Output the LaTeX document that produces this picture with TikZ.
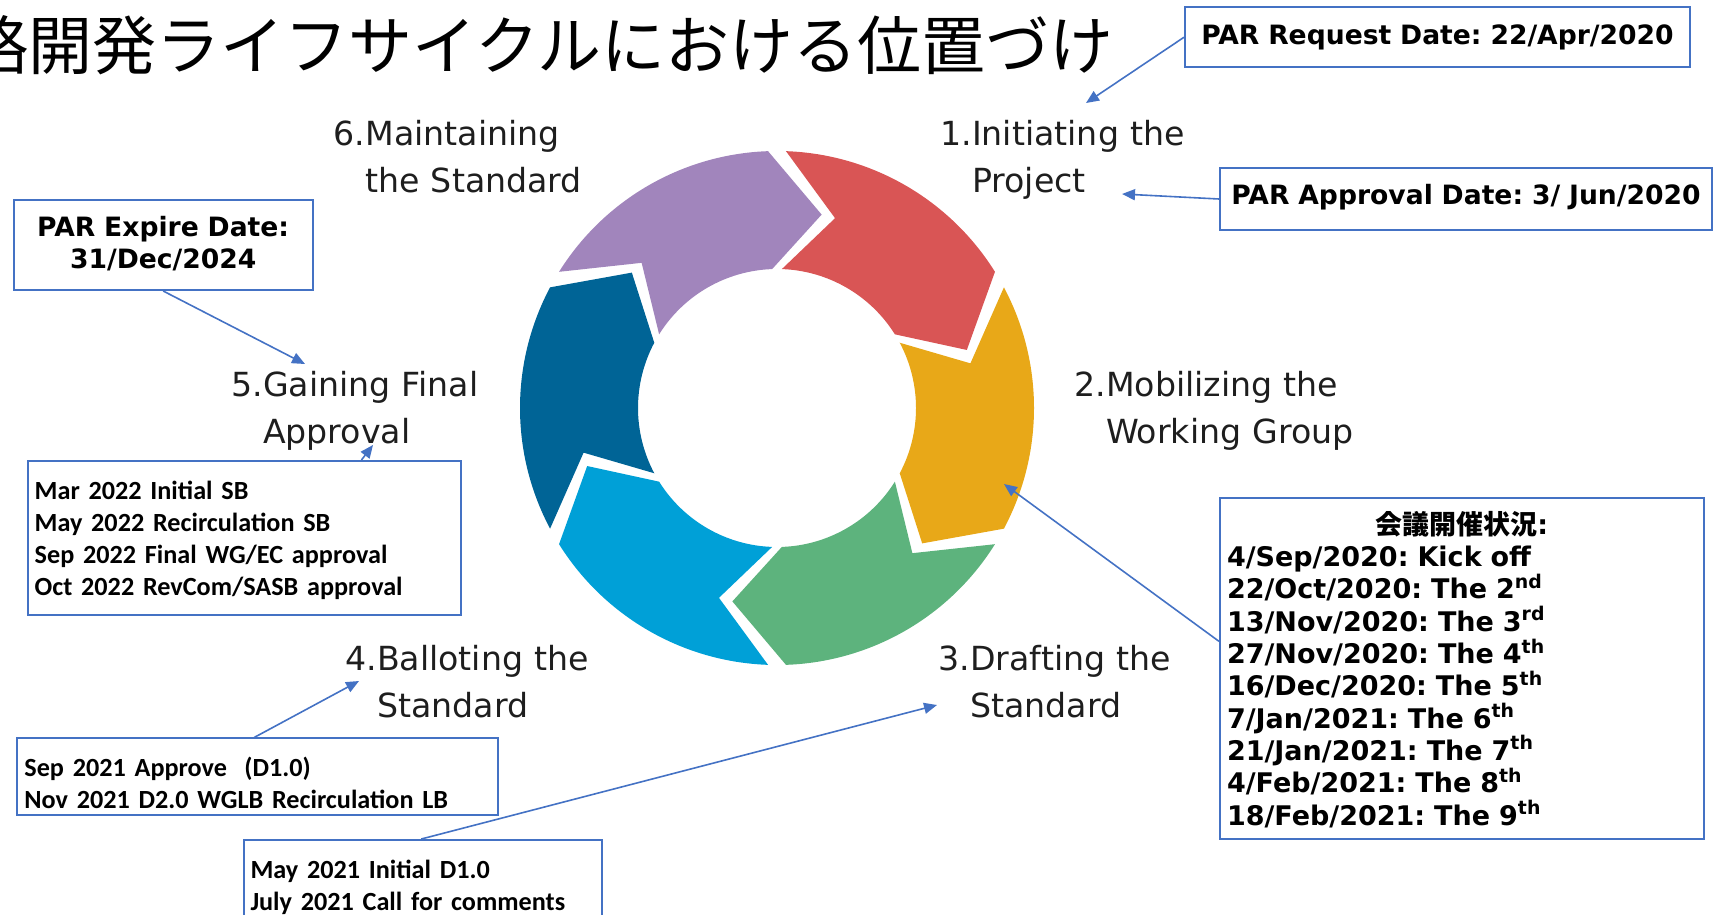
\documentclass[tikz,border=0pt]{standalone}
\usepackage{fontspec}
\usetikzlibrary{arrows.meta}
\usetikzlibrary{calc}
\newfontfamily\stagefont{DejaVu Sans}
\newfontfamily\califont{Carlito}
\newfontfamily\cjkfont{Noto Sans CJK JP}
\definecolor{callblue}{HTML}{4472C4}
\definecolor{stagegray}{HTML}{1E1E1E}
\definecolor{segred}{HTML}{D95555}
\definecolor{segorange}{HTML}{E8A818}
\definecolor{seggreen}{HTML}{5DB37D}
\definecolor{segltblue}{HTML}{00A0D7}
\definecolor{segdkblue}{HTML}{006496}
\definecolor{segpurple}{HTML}{A185BC}
\tikzset{
  stage/.style={anchor=base west, align=left, text width=160pt, inner sep=0pt, text=stagegray, font=\stagefont\fontsize{16.6}{23.5}\selectfont},
  callbox/.style={draw=callblue, line width=1pt, anchor=north west, inner xsep=3.5pt, inner ysep=0pt, text height=18.4pt},
  partext/.style={font=\stagefont\bfseries\fontsize{13.3}{16.15}\selectfont},
  datetext/.style={font=\califont\bfseries\fontsize{13.1}{16.1}\selectfont, align=left},
  pointer/.style={callblue, line width=0.8pt, -{Triangle[length=6.5pt, width=5.5pt]}}
}
\frenchspacing

\begin{document}
\begin{tikzpicture}[x=0.5pt, y=-0.5pt]
  \useasboundingbox (0,0) rectangle (1713,915);
  \clip (0,0) rectangle (1713,915);

  \node[anchor=base west, inner sep=0pt, font=\cjkfont\fontsize{32}{36}\selectfont] (title) at (-36,70) {略開発ライフサイクルにおける位置づけ};

  \begin{scope}[shift={(777,408)}, yscale=-1]
    \foreach \s/\col in {90/segred, 30/segorange, -30/seggreen, -90/segltblue, 210/segdkblue, 150/segpurple}
      \fill[\col] ({\s-2}:257) arc[start angle=\s-2, end angle=\s-58, radius=257]
        -- ({\s-73}:198.5) -- ({\s-58}:139) arc[start angle=\s-58, end angle=\s-2, radius=139]
        -- ({\s-17}:198.5) -- cycle;
  \end{scope}

  \node[stage] (s1) at (940,146) {1.Initiating the\\\phantom{1.}Project};
  \node[stage] (s2) at (1074,396.7) {2.Mobilizing the\\\phantom{2.}Working Group};
  \node[stage] (s3) at (938.3,670) {3.Drafting the\\\phantom{3.}Standard};
  \node[stage] (s4) at (345,670.7) {4.Balloting the\\\phantom{4.}Standard};
  \node[stage] (s5) at (231,396.7) {5.Gaining Final\\\phantom{5.}Approval};
  \node[stage] (s6) at (333.3,146) {6.Maintaining\\\phantom{6.}the Standard};

  \node[callbox, partext, align=center, text width=245.5pt, text depth=11.35pt] (req) at (1184,6.5) {PAR Request Date: 22/Apr/2020};
  \node[callbox, partext, align=center, text width=239pt, text height=18pt, text depth=13pt] (appr) at (1219,167) {PAR Approval Date: 3/ Jun/2020};
  \node[callbox, partext, align=center, text width=142.5pt, text height=18pt, text depth=27pt] (expire) at (12.7,199) {PAR Expire Date:\\31/Dec/2024};
  \node[callbox, font=\stagefont\bfseries\fontsize{13.5}{16.15}\selectfont, align=left, text width=234.85pt, text height=18pt, text depth=152.5pt] (meet) at (1219,497.3) {\makebox[\linewidth]{{\cjkfont\bfseries 会議開催状況}:}\\
    4/Sep/2020: Kick off\\
    22/Oct/2020: The 2\textsuperscript{nd}\\
    13/Nov/2020: The 3\textsuperscript{rd}\\
    27/Nov/2020: The 4\textsuperscript{th}\\
    16/Dec/2020: The 5\textsuperscript{th}\\
    7/Jan/2021: The 6\textsuperscript{th}\\
    21/Jan/2021: The 7\textsuperscript{th}\\
    4/Feb/2021: The 8\textsuperscript{th}\\
    18/Feb/2021: The 9\textsuperscript{th}};
  \node[callbox, datetext, text width=209.65pt, text height=19.15pt, text depth=58pt] (mar) at (26.7,460) {Mar 2022 Initial SB\\May 2022 Recirculation SB\\Sep 2022 Final WG/EC approval\\Oct 2022 RevCom/SASB approval};
  \node[callbox, datetext, text width=233.3pt, text height=19.15pt, text depth=19.15pt] (sep) at (16.4,737.4) {Sep 2021 Approve\ \ (D1.0)\\Nov 2021 D2.0 WGLB Recirculation LB};
  \node[callbox, datetext, text width=172.25pt, text height=19pt, text depth=50pt] (may) at (242.5,839) {May 2021 Initial D1.0\\July 2021 Call for comments};

  \coordinate (reqtip) at (1086,103);
  \coordinate (apprtip) at (1122,194);
  \coordinate (expiretip) at (305,364);
  \coordinate (meettip) at (1004,484);
  \coordinate (martip) at (373,445);
  \coordinate (septip) at (359,681);
  \coordinate (maytip) at (937,705);

  \draw[pointer] (req.west) -- (reqtip);
  \draw[pointer] (appr.west) -- (apprtip);
  \draw[pointer] (expire.south) -- (expiretip);
  \draw[pointer] ($(meet.north west)!0.42!(meet.south west)$) -- (meettip);
  \draw[pointer] ($(mar.north west)!0.769!(mar.north east)$) -- (martip);
  \draw[pointer] ($(sep.north west)!0.493!(sep.north east)$) -- (septip);
  \draw[pointer] ($(may.north west)!0.496!(may.north east)$) -- (maytip);
\end{tikzpicture}
\end{document}
